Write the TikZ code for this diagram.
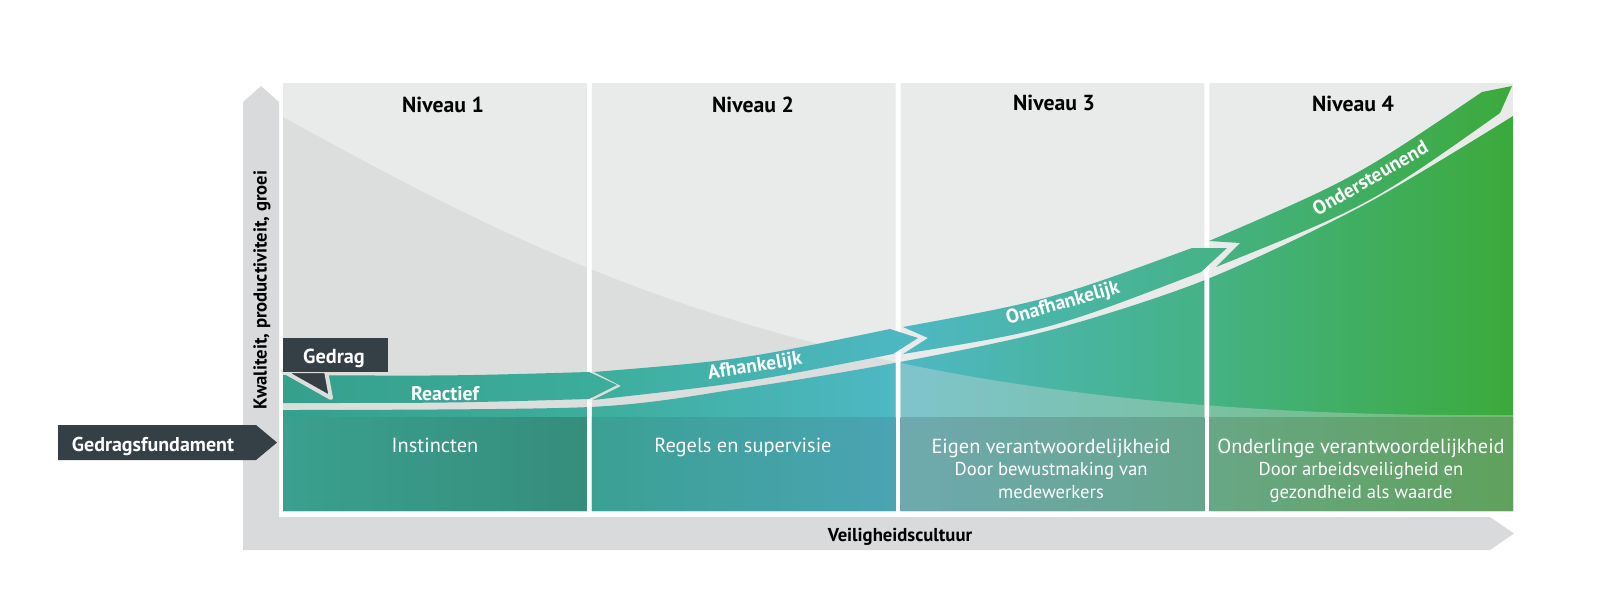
\documentclass[tikz,border=0pt]{standalone}
\usepackage{fontspec}
\setmainfont{PT Sans}
\definecolor{slate}{RGB}{52,63,70}
\definecolor{axisgray}{RGB}{217,218,219}
\definecolor{panelgray}{RGB}{233,234,234}
\definecolor{curvegray}{RGB}{220,221,221}
\definecolor{stopA}{RGB}{53,160,140}
\definecolor{stopB}{RGB}{61,174,156}
\definecolor{stopC}{RGB}{78,184,196}
\definecolor{stopD}{RGB}{69,178,133}
\definecolor{stopE}{RGB}{59,170,59}
\definecolor{lowAa}{RGB}{58,160,143}
\definecolor{lowAb}{RGB}{54,141,124}
\definecolor{lowBa}{RGB}{59,160,148}
\definecolor{lowBb}{RGB}{74,164,179}
\definecolor{lowCa}{RGB}{111,169,175}
\definecolor{lowCb}{RGB}{102,165,140}
\definecolor{lowDa}{RGB}{104,167,133}
\definecolor{lowDb}{RGB}{95,161,92}
\tikzset{every picture/.style={line width=0.75pt}}

\begin{document}
\begin{tikzpicture}[x=0.75pt,y=0.75pt,yscale=-1,xscale=1,
  levellabel/.style={anchor=base, text=black, font=\bfseries\fontsize{16.3}{18}\selectfont},
  boxlabel/.style={anchor=base, text=white, font=\fontsize{15.3}{18}\selectfont},
  boxsublabel/.style={anchor=base, text=white, font=\fontsize{14}{16}\selectfont},
  bandlabel/.style={text=white, font=\bfseries\fontsize{14.8}{16}\selectfont},
  axislabel/.style={text=black, font=\bfseries\fontsize{14}{16}\selectfont}]
\useasboundingbox (0,0) rectangle (1600,615);

%Axes
\fill [axisgray] (243,550) -- (243,102) -- (261,86) -- (279,102) -- (279,517) -- (1490,517) -- (1514,533.5) -- (1490,550) -- cycle ;

%Columns
\begin{scope}
\clip (283,83) rectangle (586.75,511) (591.75,83) rectangle (895.5,511) (900.5,83) rectangle (1204.25,511) (1209.25,83) rectangle (1513,511) ;
\fill [panelgray] (283,83) rectangle (1513,511) ;
%Decreasing curve
\fill [curvegray] (283,117) .. controls (570,275) and (850,420) .. (1513,415) -- (1513,511) -- (283,511) -- cycle ;
%Area under the band
\begin{scope}
\clip plot [smooth] coordinates {(283,410) (590,407) (744,388) (900,362) (1051,330) (1205,280) (1364,205) (1513,116)} -- (1513,511) -- (283,511) -- cycle ;
\shade [left color=stopA, right color=stopB] (283,83) rectangle (590,511) ;
\shade [left color=stopB, right color=stopC] (590,83) rectangle (898,511) ;
\shade [left color=stopC, right color=stopD] (898,83) rectangle (1207,511) ;
\shade [left color=stopD, right color=stopE] (1207,83) rectangle (1513,511) ;
\begin{scope}
\clip (898,83) rectangle (1513,511) ;
\fill [curvegray, opacity=0.35] (283,117) .. controls (570,275) and (850,420) .. (1513,415) -- (1513,511) -- (283,511) -- cycle ;
\end{scope}
\end{scope}
%Foundation boxes
\shade [left color=lowAa, right color=lowAb] (283,417) rectangle (586.75,511) ;
\shade [left color=lowBa, right color=lowBb] (591.75,417) rectangle (895.5,511) ;
\shade [left color=lowCa, right color=lowCb] (900.5,417) rectangle (1204.25,511) ;
\shade [left color=lowDa, right color=lowDb] (1209.25,417) rectangle (1513,511) ;
\end{scope}

%Band segments
\shade [left color=stopA, right color=stopB] (283,375) .. controls (450,376) .. (589,372) -- (617,385) -- (589,399) .. controls (450,403) .. (283,403) -- cycle ;
\shade [left color=stopB, right color=stopC] (594,372) .. controls (740,360) .. (890,329) -- (918,338) -- (893,354) .. controls (745,383) .. (593,400) -- (621,386) -- cycle ;
\shade [left color=stopC, right color=stopD] (903,327) .. controls (1050,300) .. (1192,248) -- (1227,248) -- (1201,272) .. controls (1050,330) .. (903,354) -- (928,338) -- cycle ;
\shade [left color=stopD, right color=stopE] (1209,241) .. controls (1355,178) .. (1482,92) -- (1512,86) -- (1500,113) .. controls (1370,205) .. (1216,267) -- (1240,243) -- cycle ;

%Callouts
\filldraw [fill=slate, draw=curvegray, line width=3, line join=round] (283,371) -- (331,398) -- (326,371) -- cycle ;
\fill [slate] (283,338) rectangle (388,372) ;
\node [anchor=base, text=white, font=\bfseries\fontsize{15.2}{16}\selectfont] (gedrag) at (334,363) {Gedrag} ;
\fill [slate] (58,425) -- (256,425) -- (277,442.5) -- (256,460) -- (58,460) -- cycle ;
\node [anchor=base, text=white, font=\bfseries\fontsize{15}{16}\selectfont] (fundament) at (153,451) {Gedragsfundament} ;

%Level titles
\node [levellabel] (niv1) at (443,112) {Niveau 1} ;
\node [levellabel] (niv2) at (753,112) {Niveau 2} ;
\node [levellabel] (niv3) at (1054,110) {Niveau 3} ;
\node [levellabel] (niv4) at (1353,111) {Niveau 4} ;

%Band labels
\node [bandlabel, anchor=base] (reactief) at (445,400) {Reactief} ;
\node [bandlabel, rotate=9] (afhankelijk) at (755,367) {Afhankelijk} ;
\node [bandlabel, rotate=16] (onafhankelijk) at (1063,304) {Onafhankelijk} ;
\node [bandlabel, rotate=30] (ondersteunend) at (1370,178) {Ondersteunend} ;

%Foundation labels
\node [boxlabel] (instincten) at (435,452) {Instincten} ;
\node [boxlabel] (regels) at (743,452) {Regels en supervisie} ;
\node [boxlabel] (eigen) at (1051,453) {Eigen verantwoordelijkheid} ;
\node [boxsublabel] (eigenb) at (1051,475) {Door bewustmaking van} ;
\node [boxsublabel] (eigenc) at (1051,498) {medewerkers} ;
\node [boxlabel] (onderling) at (1361,453) {Onderlinge verantwoordelijkheid} ;
\node [boxsublabel] (onderlingb) at (1361,475) {Door arbeidsveiligheid en} ;
\node [boxsublabel] (onderlingc) at (1361,498) {gezondheid als waarde} ;

%Axis labels
\node [axislabel, rotate=90] (yaxis) at (262,290) {Kwaliteit, productiviteit, groei} ;
\node [axislabel, anchor=base] (xaxis) at (900,541) {Veiligheidscultuur} ;
\end{tikzpicture}
\end{document}
